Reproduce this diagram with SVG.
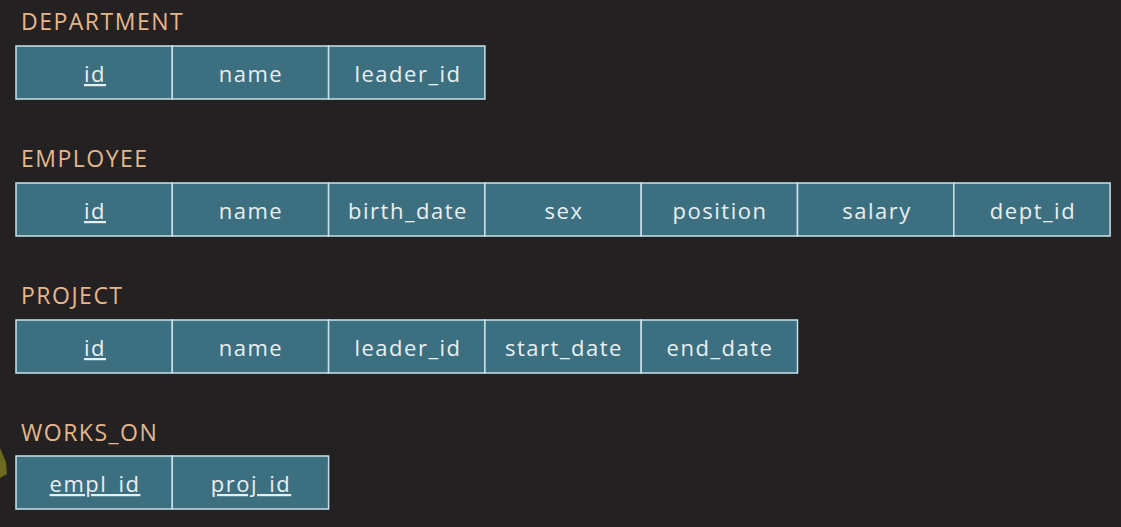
<svg xmlns="http://www.w3.org/2000/svg" width="1121" height="527" viewBox="0 0 1121 527">
<style>
.bg{fill:#232122}
.title{font-family:"Open Sans","Noto Sans",sans-serif;font-size:23px;fill:#e6b68c;letter-spacing:1.5px}
.cell{fill:#3c7080;stroke:#c9e2ea;stroke-width:1.5}
.t{font-family:"Open Sans","Noto Sans",sans-serif;font-size:22px;fill:#e9eff1;text-anchor:middle;letter-spacing:1.5px}
.u{text-decoration:underline}
</style>
<rect class="bg" x="0" y="0" width="1121" height="527"/>
<polygon points="0,448 6,462 7,474 0,478" fill="#6b6a1e"/>
<g id="department">
<text class="title" x="21" y="30">DEPARTMENT</text>
<rect class="cell" x="16" y="46" width="156.3" height="53"/>
<rect class="cell" x="172.3" y="46" width="156.3" height="53"/>
<rect class="cell" x="328.6" y="46" width="156.3" height="53"/>
<text class="t u" x="95" y="82">id</text>
<text class="t" x="251" y="82">name</text>
<text class="t" x="408" y="82">leader_id</text>
</g>
<g id="employee">
<text class="title" x="21" y="167">EMPLOYEE</text>
<rect class="cell" x="16" y="183" width="156.3" height="53"/>
<rect class="cell" x="172.3" y="183" width="156.3" height="53"/>
<rect class="cell" x="328.6" y="183" width="156.3" height="53"/>
<rect class="cell" x="484.9" y="183" width="156.3" height="53"/>
<rect class="cell" x="641.2" y="183" width="156.3" height="53"/>
<rect class="cell" x="797.5" y="183" width="156.3" height="53"/>
<rect class="cell" x="953.8" y="183" width="156.3" height="53"/>
<text class="t u" x="95" y="219">id</text>
<text class="t" x="251" y="219">name</text>
<text class="t" x="408" y="219">birth_date</text>
<text class="t" x="564" y="219">sex</text>
<text class="t" x="720" y="219">position</text>
<text class="t" x="877" y="219">salary</text>
<text class="t" x="1033" y="219">dept_id</text>
</g>
<g id="project">
<text class="title" x="21" y="304">PROJECT</text>
<rect class="cell" x="16" y="320" width="156.3" height="53"/>
<rect class="cell" x="172.3" y="320" width="156.3" height="53"/>
<rect class="cell" x="328.6" y="320" width="156.3" height="53"/>
<rect class="cell" x="484.9" y="320" width="156.3" height="53"/>
<rect class="cell" x="641.2" y="320" width="156.3" height="53"/>
<text class="t u" x="95" y="356">id</text>
<text class="t" x="251" y="356">name</text>
<text class="t" x="408" y="356">leader_id</text>
<text class="t" x="564" y="356">start_date</text>
<text class="t" x="720" y="356">end_date</text>
</g>
<g id="works_on">
<text class="title" x="21" y="441">WORKS_ON</text>
<rect class="cell" x="16" y="456" width="156.3" height="53"/>
<rect class="cell" x="172.3" y="456" width="156.3" height="53"/>
<text class="t u" x="95" y="492">empl_id</text>
<text class="t u" x="251" y="492">proj_id</text>
</g>
<g id="connectors"></g>
</svg>
